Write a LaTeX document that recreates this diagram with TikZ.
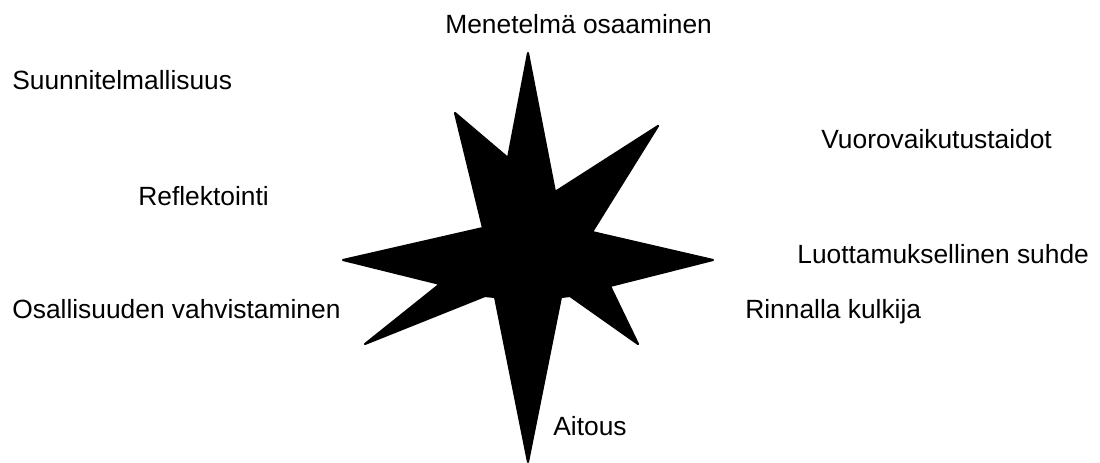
\documentclass[tikz,border=0pt]{standalone}
\usepackage{fontspec}
\setmainfont{Liberation Sans}
\usepackage{xcolor}
\usepackage{tikz}
\usetikzlibrary{positioning}
\definecolor{starblack}{HTML}{000000}

\begin{document}
\begin{tikzpicture}[x=0.02cm, y=-0.02cm,
    lbl/.style={anchor=base west, inner sep=0pt, font=\fontsize{15}{18}\selectfont}]
  \useasboundingbox (0,0) rectangle (1100,463);
  % star
  \fill[starblack, draw=starblack, line width=1.2pt, line join=round]
    (528,53) -- (555,192) -- (658,126) -- (592,232) -- (713,260) -- (610,286)
    -- (638,344) -- (570,296) -- (561,297) -- (528,462) -- (495,297) -- (485,296)
    -- (365,344) -- (440,284) -- (343,260) -- (483,228) -- (455,113) -- (508,158)
    -- cycle;
  % labels
  \node[lbl] (menetelma) at (445,33) {Menetelmä osaaminen};
  \node[lbl] (suunnitelma) at (12,90) {Suunnitelmallisuus};
  \node[lbl] (vuorovaikutus) at (821,148) {Vuorovaikutustaidot};
  \node[lbl] (reflektointi) at (138,205) {Reflektointi};
  \node[lbl] (luottamus) at (797,263) {Luottamuksellinen suhde};
  \node[lbl] (osallisuus) at (12,318) {Osallisuuden vahvistaminen};
  \node[lbl] (rinnalla) at (745,318) {Rinnalla kulkija};
  \node[lbl] (aitous) at (553,435) {Aitous};
\end{tikzpicture}
\end{document}
